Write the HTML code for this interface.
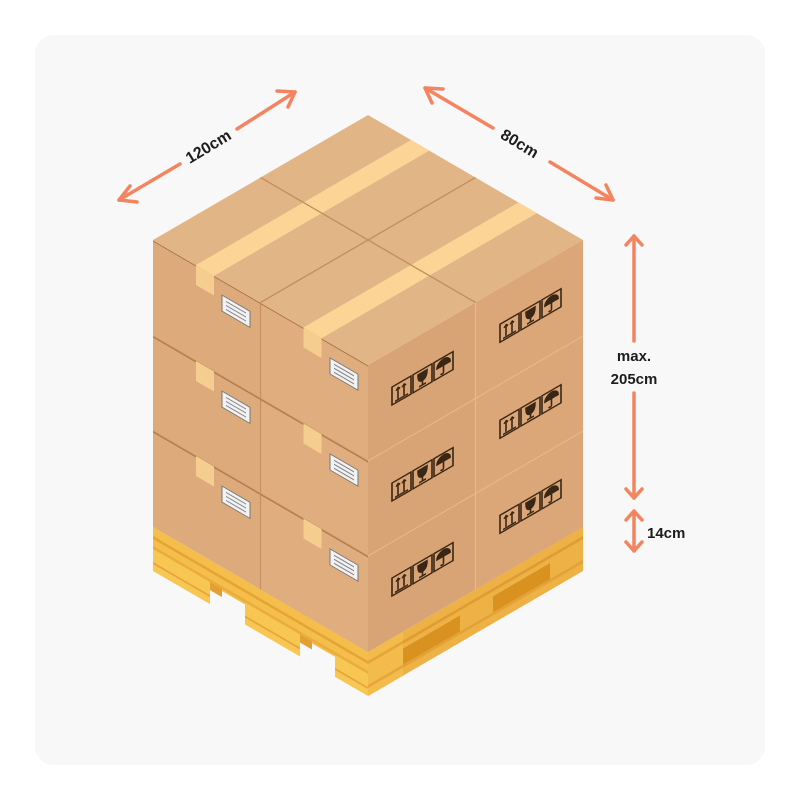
<!DOCTYPE html>
<html><head><meta charset="utf-8"><style>
html,body{margin:0;padding:0;background:#fff;}
svg{display:block;}
text{font-family:"Liberation Sans",sans-serif;font-weight:bold;fill:#1d1d1d;}
</style></head><body>
<svg width="800" height="800" viewBox="0 0 800 800" xmlns="http://www.w3.org/2000/svg">
<defs>
<g id="sym" fill="none" stroke="#3a2614" stroke-width="1.6">
  <rect x="0" y="0" width="19" height="18"/>
  <path d="M6 15V4M4 6l2-2 2 2M12 15V4M10 6l2-2 2 2M3 16h13"/>
  <rect x="21" y="0" width="19" height="18"/>
  <path d="M26 3h9c0 6-2 8-4.5 8S26 9 26 3zM30.5 11v4M27 15.5h7" fill="#3a2614"/>
  <rect x="42" y="0" width="19" height="18"/>
  <path d="M45 8c0-4 4-6 6.5-6S58 4 58 8zM51.5 8v7c0 1.5-2.5 1.5-2.5 0" />
  <path d="M45 8c0-4 4-6 6.5-6S58 4 58 8z" fill="#3a2614"/>
</g>
<g id="lbl">
  <rect x="0" y="0" width="28" height="16" fill="#f2f2f2" stroke="#777" stroke-width="1"/>
  <path d="M4 4h20M4 8h20M4 12h20" stroke="#888" stroke-width="1.2"/>
</g>
</defs>
<rect x="0" y="0" width="800" height="800" fill="#fff"/>
<rect x="35" y="35" width="730" height="730" rx="18" fill="#f8f8f8"/>

<!-- pallet left face -->
<g transform="matrix(1,0.5814,0,1,153,240)">
  <rect x="0" y="287" width="215" height="24" fill="#f5be4b"/>
  <rect x="0" y="296" width="215" height="3" fill="#e4a537"/>
  <rect x="0" y="306" width="215" height="3" fill="#e9ad3d"/>
  <rect x="0" y="309" width="57" height="22" fill="#f7c653"/>
  <rect x="92" y="309" width="55" height="22" fill="#f7c653"/>
  <rect x="182" y="309" width="33" height="22" fill="#f7c653"/>
  <rect x="57" y="309" width="12" height="8" fill="#e29f33"/>
  <rect x="147" y="309" width="12" height="8" fill="#e29f33"/>
  <rect x="0" y="322" width="57" height="2" fill="#e6a63a"/>
  <rect x="92" y="322" width="55" height="2" fill="#e6a63a"/>
  <rect x="182" y="322" width="33" height="2" fill="#e6a63a"/>
</g>
<!-- pallet right face -->
<g transform="matrix(1,-0.5814,0,1,368,365)">
  <rect x="0" y="287" width="215" height="44" fill="#eeb145"/>
  <rect x="35" y="304" width="57" height="16" fill="#d9921f"/>
  <rect x="125" y="304" width="57" height="16" fill="#d9921f"/>
  <rect x="0" y="296" width="215" height="3" fill="#df9c30"/>
  <rect x="0" y="320" width="215" height="3" fill="#e3a236"/>
  <rect x="0" y="287" width="35" height="44" fill="#f3bb4c"/>
  <rect x="0" y="296" width="35" height="3" fill="#e4a537"/>
  <rect x="0" y="320" width="35" height="3" fill="#e6a63a"/>
</g>

<!-- left face of boxes -->
<g transform="matrix(1,0.5814,0,1,153,240)">
  <rect x="0" y="0" width="215" height="287" fill="#ddaa7b"/>
  <rect x="107.5" y="0" width="107.5" height="287" fill="#dfad7e"/>
  <g stroke="#c7925f" stroke-width="1.2" fill="none">
    <path d="M0 96H215M0 191H215M107.5 0V287"/>
  </g>
  <g fill="#f5cd8e">
    <rect x="43" y="0" width="18" height="20"/><rect x="150.5" y="0" width="18" height="20"/>
    <rect x="43" y="96" width="18" height="20"/><rect x="150.5" y="96" width="18" height="20"/>
    <rect x="43" y="191" width="18" height="20"/><rect x="150.5" y="191" width="18" height="20"/>
  </g>
  <g stroke="#a9733f" stroke-width="1" fill="none">
    <path d="M0 1H43M61 1H107M107.5 1H150.5M168.5 1H215"/>
    <path d="M0 97H43M61 97H107M107.5 97H150.5M168.5 97H215"/>
    <path d="M0 192H43M61 192H107M107.5 192H150.5M168.5 192H215"/>
  </g>
  <use href="#lbl" x="69" y="15"/><use href="#lbl" x="177" y="15"/>
  <use href="#lbl" x="69" y="111"/><use href="#lbl" x="177" y="111"/>
  <use href="#lbl" x="69" y="206"/><use href="#lbl" x="177" y="206"/>
</g>
<!-- right face of boxes -->
<g transform="matrix(1,-0.5814,0,1,368,365)">
  <rect x="0" y="0" width="215" height="287" fill="#d9a475"/>
  <rect x="107.5" y="0" width="107.5" height="287" fill="#dba778"/>
  <g stroke="#e6b98a" stroke-width="1.2" fill="none">
    <path d="M0 96H215M0 191H215M107.5 0V287"/>
  </g>
  <use href="#sym" x="24" y="36"/><use href="#sym" x="132" y="36"/>
  <use href="#sym" x="24" y="132"/><use href="#sym" x="132" y="132"/>
  <use href="#sym" x="24" y="227"/><use href="#sym" x="132" y="227"/>
</g>
<!-- top face -->
<g transform="matrix(107.5,62.5,107.5,-62.5,153,240)">
  <rect x="0" y="0" width="2" height="2" fill="#e2b586"/>
  <g fill="#fcd596">
    <rect x="0.4" y="0" width="0.17" height="1"/><rect x="1.4" y="0" width="0.17" height="1"/>
    <rect x="0.4" y="1" width="0.17" height="1"/><rect x="1.4" y="1" width="0.17" height="1"/>
  </g>
  <path d="M1 0V2M0 1H2" stroke="#c28d5b" stroke-width="0.012" fill="none"/>
</g>

<!-- arrows -->
<g stroke="#f4845f" stroke-width="3.5" fill="none" stroke-linecap="round" stroke-linejoin="round">
  <path d="M119 200L180 164M237 129L295 92"/>
  <path d="M130 186L119 200L137 202"/>
  <path d="M277 91L295 92L288 107"/>
  <path d="M425 88L493 128M550 162L613 200"/>
  <path d="M432 103L425 88L443 89"/>
  <path d="M596 198L613 200L606 185"/>
  <path d="M634 236V341M634 393V498"/>
  <path d="M626 245L634 236L642 245M626 489L634 498L642 489"/>
  <path d="M634 511V551M626 520L634 511L642 520M626 542L634 551L642 542"/>
</g>
<text x="208" y="152" font-size="16" text-anchor="middle" transform="rotate(-31 208 146)">120cm</text>
<text x="520" y="149" font-size="16" text-anchor="middle" transform="rotate(31 520 143)">80cm</text>
<text x="634" y="361" font-size="15" text-anchor="middle">max.</text>
<text x="634" y="384" font-size="15" text-anchor="middle">205cm</text>
<text x="647" y="538" font-size="15">14cm</text>
</svg>
</body></html>
